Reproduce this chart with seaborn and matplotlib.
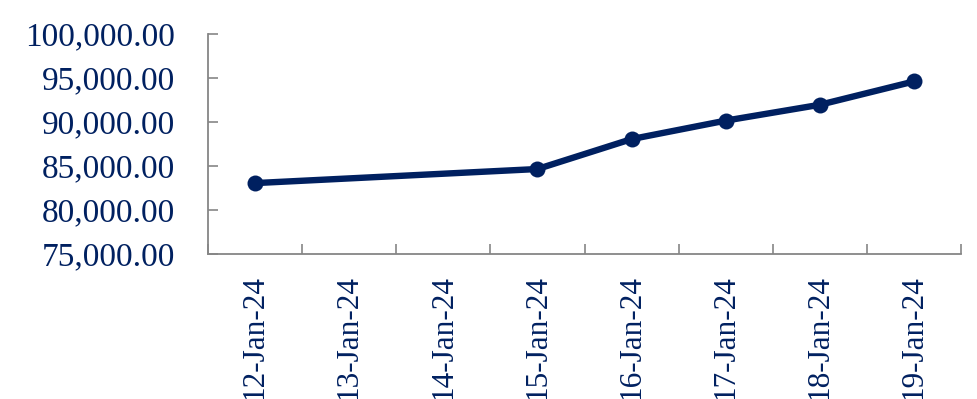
import matplotlib
matplotlib.use("Agg")
import matplotlib.pyplot as plt
import seaborn as sns
import pandas as pd
import numpy as np
from matplotlib.ticker import FuncFormatter, FixedLocator

# Data
all_dates = ["2024-01-12", "2024-01-13", "2024-01-14", "2024-01-15",
             "2024-01-16", "2024-01-17", "2024-01-18", "2024-01-19"]
tick_labels = ["12-Jan-24", "13-Jan-24", "14-Jan-24", "15-Jan-24",
               "16-Jan-24", "17-Jan-24", "18-Jan-24", "19-Jan-24"]
obs_dates = ["2024-01-12", "2024-01-15", "2024-01-16", "2024-01-17",
             "2024-01-18", "2024-01-19"]
values = [83000, 84600, 88000, 90100, 91900, 94550]

sns.set_theme(style="white")
plt.rcParams['font.family'] = ['Liberation Serif', 'DejaVu Serif']

navy = "#002060"
grey = "#868686"

start = pd.Timestamp(all_dates[0])
df = pd.DataFrame({
    "day": [(pd.Timestamp(d) - start).days for d in obs_dates],
    "value": values,
})

fig = plt.figure(figsize=(9.77, 3.99), dpi=100)
ax = fig.add_axes([208/977, 1 - 253.5/399, (961-208)/977, (253.5-33.5)/399])

sns.lineplot(data=df, x="day", y="value", ax=ax, color=navy, linewidth=4.6,
             marker="o", markersize=11.5, markeredgewidth=0, markerfacecolor=navy)

n = len(all_dates)
ax.set_xlim(-0.5, n - 0.5)
ax.set_ylim(75000, 100000)
ax.set_yticks(np.arange(75000, 100001, 5000))
ax.yaxis.set_major_formatter(FuncFormatter(lambda v, p: f"{v:,.2f}"))

ax.set_xticks(range(n))
ax.set_xticklabels(tick_labels, rotation=90, va="top", ha="center")
ax.xaxis.set_minor_locator(FixedLocator(np.arange(-0.5, n, 1.0)))
ax.tick_params(axis="x", which="both", bottom=True)
ax.tick_params(axis="y", which="both", left=True)
ax.tick_params(axis="x", which="major", length=0, pad=15.5, labelsize=22.5, labelcolor=navy)
ax.tick_params(axis="x", which="minor", direction="in", length=7, width=1.2, color=grey)
ax.tick_params(axis="y", which="major", direction="in", length=7, width=1.2, color=grey,
               pad=24, labelsize=24, labelcolor=navy)

for s in ["top", "right"]:
    ax.spines[s].set_visible(False)
for s in ["left", "bottom"]:
    ax.spines[s].set_color(grey)
    ax.spines[s].set_linewidth(1.3)

ax.set_xlabel("")
ax.set_ylabel("")
ax.grid(False)

fig.savefig("out.png", dpi=100)
